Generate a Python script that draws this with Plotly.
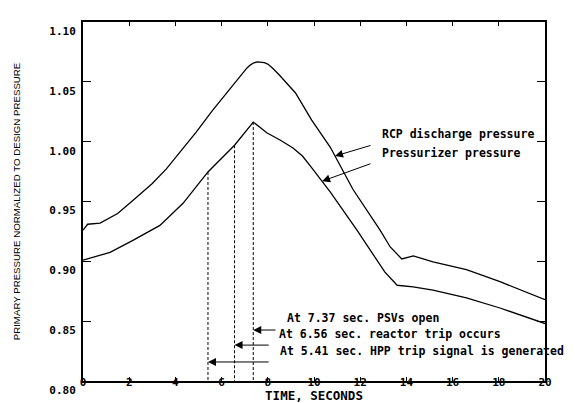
import numpy as np
import plotly.graph_objects as go

# ---------------- data ----------------
time_rcp = [0, 0.2, 0.74, 1.5, 2.17, 3.0, 3.6, 4.2, 4.9, 5.6, 6.35, 7.1, 7.25, 7.4,
            7.55, 7.7, 7.85, 8.0, 8.2, 8.5, 9.2, 9.9, 10.7, 11.69, 12.86, 13.3, 13.8,
            14.3, 14.7, 15.15, 16.6, 18.05, 20]
rcp_pressure = [0.926, 0.931, 0.932, 0.940, 0.951, 0.965, 0.977, 0.991, 1.008, 1.026,
                1.044, 1.0616, 1.0642, 1.0659, 1.0667, 1.0667, 1.0661, 1.0648, 1.0615,
                1.0557, 1.0407, 1.018, 0.9955, 0.960, 0.926, 0.912, 0.902, 0.9045,
                0.902, 0.8995, 0.893, 0.883, 0.868]

time_pzr = [0, 0.3, 1.17, 2.16, 3.33, 4.33, 5.41, 6.56, 7.37, 7.97, 8.53, 9.09, 9.5,
            9.83, 10.35, 10.7, 11.86, 13.07, 13.6, 14.29, 15.15, 16.6, 18.05, 20]
pzr_pressure = [0.901, 0.9025, 0.9075, 0.9175, 0.930, 0.9485, 0.9747, 0.997, 1.0164,
                1.0072, 1.0014, 0.9947, 0.988, 0.980, 0.967, 0.958, 0.926, 0.891,
                0.880, 0.8786, 0.876, 0.8694, 0.861, 0.848]

series_labels = ["RCP discharge pressure", "Pressurizer pressure"]

event_times = [5.41, 6.56, 7.37]
event_labels = ["At 5.41 sec. HPP trip signal is generated",
                "At 6.56 sec. reactor trip occurs",
                "At 7.37 sec. PSVs open"]

x_ticks = [0, 2, 4, 6, 8, 10, 12, 14, 16, 18, 20]
x_tick_labels = ["0", "2", "4", "6", "8", "10", "12", "14", "16", "18", "20"]
y_ticks = [0.80, 0.85, 0.90, 0.95, 1.00, 1.05, 1.10]
y_tick_labels = ["0.80", "0.85", "0.90", "0.95", "1.00", "1.05", "1.10"]

x_title = "TIME, SECONDS"
y_title = "PRIMARY PRESSURE NORMALIZED TO DESIGN PRESSURE"

# ---------------- figure ----------------
Y_MIN, Y_MAX = 0.80, 1.10
X_MIN, X_MAX = 0, 20
MONO = "DejaVu Sans Mono"

fig = go.Figure()

fig.add_trace(go.Scatter(x=time_rcp, y=rcp_pressure, mode="lines",
                         line=dict(color="black", width=1.3), name=series_labels[0],
                         showlegend=False))
fig.add_trace(go.Scatter(x=time_pzr, y=pzr_pressure, mode="lines",
                         line=dict(color="black", width=1.3), name=series_labels[1],
                         showlegend=False))

# dashed event lines from the pressurizer curve down to the axis
dx, dy = [], []
for t in event_times:
    top = float(np.interp(t, time_pzr, pzr_pressure))
    dx += [t, t, None]
    dy += [top, Y_MIN, None]
fig.add_trace(go.Scatter(x=dx, y=dy, mode="lines",
                         line=dict(color="black", width=1, dash="3px,2px"),
                         showlegend=False, hoverinfo="skip"))

ann_font = dict(family=MONO, size=11.5, color="black", weight="bold")

# curve labels with arrows pointing at the curves
fig.add_annotation(x=12.86, y=1.0064, text=series_labels[0], showarrow=False,
                   xanchor="left", yanchor="middle", font=ann_font)
fig.add_annotation(x=12.86, y=0.9905, text=series_labels[1], showarrow=False,
                   xanchor="left", yanchor="middle", font=ann_font)
curve_arrows = [((12.51, 0.9972), 10.91, time_rcp, rcp_pressure),
                ((12.51, 0.9820), 10.35, time_pzr, pzr_pressure)]
for (tx, ty), hx, xs, ys in curve_arrows:
    hy = float(np.interp(hx, xs, ys))
    fig.add_annotation(x=hx, y=hy, ax=tx, ay=ty, axref="x", ayref="y",
                       xref="x", yref="y", text="", showarrow=True,
                       arrowhead=2, arrowsize=1.6, arrowwidth=1, arrowcolor="black")

# event labels with arrows
text_pos = {5.41: (8.44, 0.8250), 6.56: (8.40, 0.8393), 7.37: (8.74, 0.8527)}
arrow_tail = {5.41: (8.10, 0.8159), 6.56: (8.10, 0.8300), 7.37: (8.40, 0.8426)}
for t, lab in zip(event_times, event_labels):
    tx, ty = text_pos[t]
    fig.add_annotation(x=tx, y=ty, text=lab, showarrow=False, xanchor="left",
                       yanchor="middle", font=ann_font)
    ax_, ay_ = arrow_tail[t]
    fig.add_annotation(x=t, y=ay_, ax=ax_, ay=ay_, axref="x", ayref="y",
                       xref="x", yref="y", text="", showarrow=True,
                       arrowhead=2, arrowsize=1.6, arrowwidth=1, arrowcolor="black")

tick_font = dict(family=MONO, size=11, color="black", weight="bold")

fig.update_xaxes(range=[X_MIN, X_MAX], tickvals=x_ticks, ticktext=x_tick_labels,
                 ticks="inside", ticklen=4, tickwidth=1, tickcolor="black",
                 showline=True, linecolor="black", linewidth=2, mirror="ticks",
                 showgrid=False, zeroline=False, tickfont=tick_font,
                 ticklabelstandoff=-10,
                 title=dict(text=x_title, font=dict(family=MONO, size=12.5, color="black",
                                                     weight="bold"), standoff=2))
fig.update_yaxes(range=[Y_MIN, Y_MAX], tickvals=y_ticks, ticktext=y_tick_labels,
                 ticks="inside", ticklen=8, tickwidth=1, tickcolor="black",
                 showline=True, linecolor="black", linewidth=2, mirror="ticks",
                 showgrid=False, zeroline=False, tickfont=tick_font,
                 ticklabelshift=9, ticklabelstandoff=3,
                 title=dict(text=y_title, font=dict(family="Liberation Sans", size=9.7,
                                                     color="black"), standoff=27))

fig.update_layout(width=575, height=403,
                  margin=dict(l=83, r=30, t=22, b=22, autoexpand=False),
                  paper_bgcolor="white", plot_bgcolor="white", showlegend=False)

fig.write_html("out.html", config={"displayModeBar": False},
               post_script="document.body.style.margin='0';document.body.style.overflow='hidden';")
